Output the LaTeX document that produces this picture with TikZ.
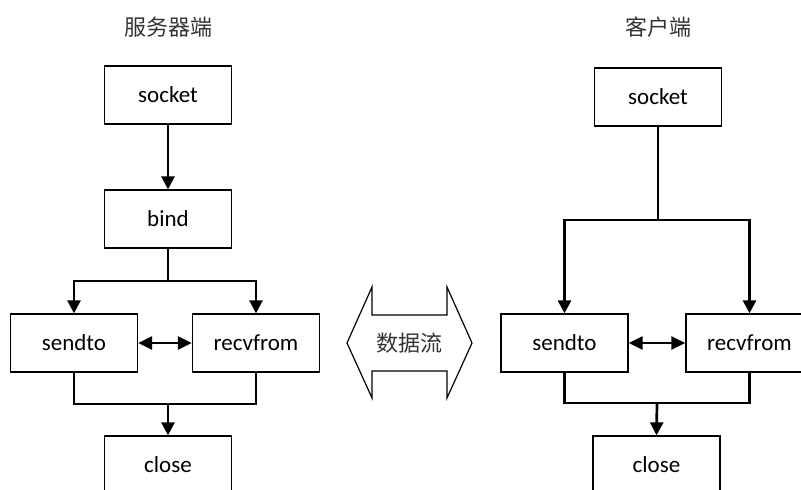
\documentclass[tikz,border=0pt]{standalone}
\usepackage{fontspec}
\setmainfont{Carlito}
\newfontfamily\cjk{Noto Sans CJK SC}
\usetikzlibrary{arrows.meta}
\tikzset{
  box/.style={draw=black, line width=1.3pt, rectangle, minimum width=127pt,
    minimum height=58pt, inner sep=0pt, font=\fontsize{23}{27}\selectfont},
  title/.style={font=\cjk\fontsize{22}{26}\selectfont, text=black!80, inner sep=0pt},
  conn/.style={line width=2.7pt, line join=miter},
  arr/.style={conn, -{Triangle[length=13pt,width=13pt]}},
  dbl/.style={conn, {Triangle[length=14pt,width=13pt]}-{Triangle[length=14pt,width=13pt]}},
}
\begin{document}
\begin{tikzpicture}[x=1pt, y=-1pt]
  \useasboundingbox (0,0) rectangle (801,490);
  \clip (0,0) rectangle (801,490);

  % server side
  \node[title] (ltitle) at (168,27) {服务器端};
  \node[box] (lsock)  at (168,95)  {socket};
  \node[box] (lbind)  at (168,219) {bind};
  \node[box] (lsend)  at (74,343)  {sendto};
  \node[box] (lrecv)  at (256,343) {recvfrom};
  \node[box] (lclose) at (168,465) {close};
  \coordinate (ltop) at (168,281);
  \coordinate (lbot) at (168,404);

  \draw[arr] (lsock.south) -- (lbind.north);
  \draw[arr] (lbind.south) -- (ltop) -| (lsend.north);
  \draw[arr] (ltop) -| (lrecv.north);
  \draw[dbl] (lsend.east) -- (lrecv.west);
  \draw[conn] (lsend.south) |- (lbot) -| (lrecv.south);
  \draw[arr] (lbot) -- (lclose.north);

  % client side
  \node[title] (rtitle) at (658,27) {客户端};
  \node[box] (rsock)  at (658,97)  {socket};
  \node[box] (rsend)  at (564.5,343) {sendto};
  \node[box] (rrecv)  at (749.5,343) {recvfrom};
  \node[box] (rclose) at (656.5,465) {close};
  \coordinate (rtop) at (658,220);
  \coordinate (rbot) at (657,403);

  \draw[conn] (rsock.south) -- (rtop);
  \draw[arr] (rtop) -| (rsend.north);
  \draw[arr] (rtop) -| (rrecv.north);
  \draw[dbl] (rsend.east) -- (rrecv.west);
  \draw[conn] (rsend.south) |- (rbot) -| (rrecv.south);
  \draw[arr] (rbot) -- (rclose.north);

  % data flow block arrow
  \draw[line width=1.2pt, line join=miter]
    (347,343) -- (372,287) -- (372,315) -- (447,315) -- (447,287) -- (472,343)
    -- (447,398) -- (447,371) -- (372,371) -- (372,398) -- cycle;
  \node[font=\cjk\fontsize{22}{26}\selectfont, text=black!80] (flow) at (409,343) {数据流};
\end{tikzpicture}
\end{document}
